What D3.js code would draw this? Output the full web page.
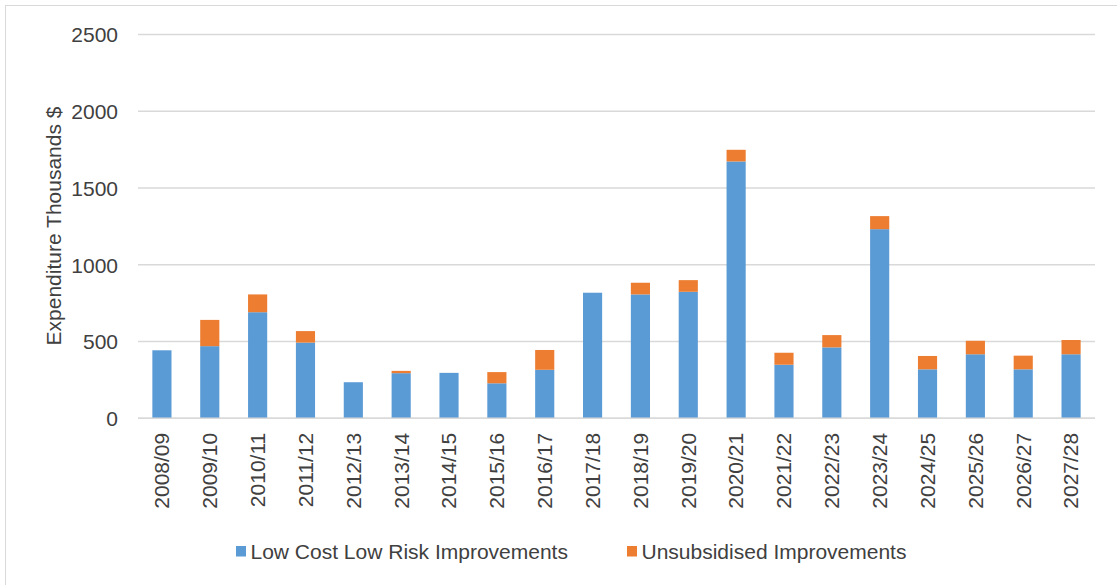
<!DOCTYPE html>
<html><head><meta charset="utf-8">
<script src="https://cdn.jsdelivr.net/npm/d3@7"></script>
<style>body{margin:0;background:#fff;} svg{display:block;}</style>
</head><body>
<svg id="c" width="1117" height="585"></svg>
<script>
const categories = ["2008/09","2009/10","2010/11","2011/12","2012/13","2013/14","2014/15","2015/16","2016/17","2017/18","2018/19","2019/20","2020/21","2021/22","2022/23","2023/24","2024/25","2025/26","2026/27","2027/28"];
const lowCost = [443,470,691,493,235,294,296,228,316,818,807,824,1673,349,462,1232,319,417,319,417];
const unsubsidised = [0,171,116,75,0,15,0,73,129,0,76,76,76,78,80,85,87,88,89,93];
const yTicks = [0,500,1000,1500,2000,2500];
const seriesNames = ["Low Cost Low Risk Improvements","Unsubsidised Improvements"];
const colors = ["#5B9BD5","#ED7D31"];

(function(){
const svg = d3.select("#c");
const font = "'Liberation Sans', Arial, sans-serif";
svg.append("rect").attr("x",5.5).attr("y",5.5).attr("width",1130).attr("height",600)
  .attr("fill","#fff").attr("stroke","#d9d9d9").attr("stroke-width",1);

const pLeft = 138, pRight = 1095, pTop = 34.5, pBottom = 418.3;
const x = d3.scaleBand().domain(categories).range([pLeft,pRight]).paddingInner(0.6).paddingOuter(0.3);
const y = d3.scaleLinear().domain([0,2500]).range([pBottom,pTop]);

svg.append("g").selectAll("line").data(yTicks).join("line")
  .attr("x1",pLeft).attr("x2",pRight)
  .attr("y1",d=>y(d)).attr("y2",d=>y(d))
  .attr("stroke","#d9d9d9").attr("stroke-width",1.4);

const yAxis = d3.axisLeft(y).tickValues(yTicks).tickSize(0).tickPadding(0).tickFormat(d3.format("d"));
const ya = svg.append("g").attr("transform",`translate(118,0)`).call(yAxis);
ya.select(".domain").remove();
ya.selectAll("text").attr("font-family",font).attr("font-size",21).attr("fill","#404040").attr("dy","0.35em");

const data = categories.map((c,i)=>({cat:c, a:lowCost[i], b:unsubsidised[i]}));
const stack = d3.stack().keys(["a","b"])(data);
svg.append("g").selectAll("g").data(stack).join("g")
  .attr("fill",(d,i)=>colors[i])
  .selectAll("rect").data(d=>d).join("rect")
  .attr("x",d=>x(d.data.cat)).attr("width",x.bandwidth())
  .attr("y",d=>y(d[1])).attr("height",d=>Math.max(0,y(d[0])-y(d[1])));

svg.append("line").attr("x1",pLeft).attr("x2",pRight).attr("y1",y(0)).attr("y2",y(0))
  .attr("stroke","#d9d9d9").attr("stroke-width",1.4);

const xAxis = d3.axisBottom(x).tickSize(0).tickPadding(0);
const xa = svg.append("g").attr("transform",`translate(0,${y(0)})`).call(xAxis);
xa.select(".domain").remove();
xa.selectAll("text").attr("font-family",font).attr("font-size",21).attr("fill","#404040")
  .attr("text-anchor","end").attr("transform","rotate(-90)")
  .attr("x",-14.5).attr("y",0).attr("dy","0.35em");

svg.append("text").attr("transform","translate(54,226) rotate(-90)")
  .attr("text-anchor","middle").attr("dy","0.35em")
  .attr("font-family",font).attr("font-size",21).attr("fill","#404040")
  .text("Expenditure Thousands $");

const legX = [236,627];
const lg = svg.append("g").selectAll("g").data(seriesNames).join("g")
  .attr("transform",(d,i)=>`translate(${legX[i]},546)`);
lg.append("rect").attr("width",10).attr("height",10.5).attr("fill",(d,i)=>colors[i]);
lg.append("text").attr("x",14.5).attr("y",5.3).attr("dy","0.35em")
  .attr("font-family",font).attr("font-size",21).attr("fill","#404040").text(d=>d);
})();
</script>
</body></html>
